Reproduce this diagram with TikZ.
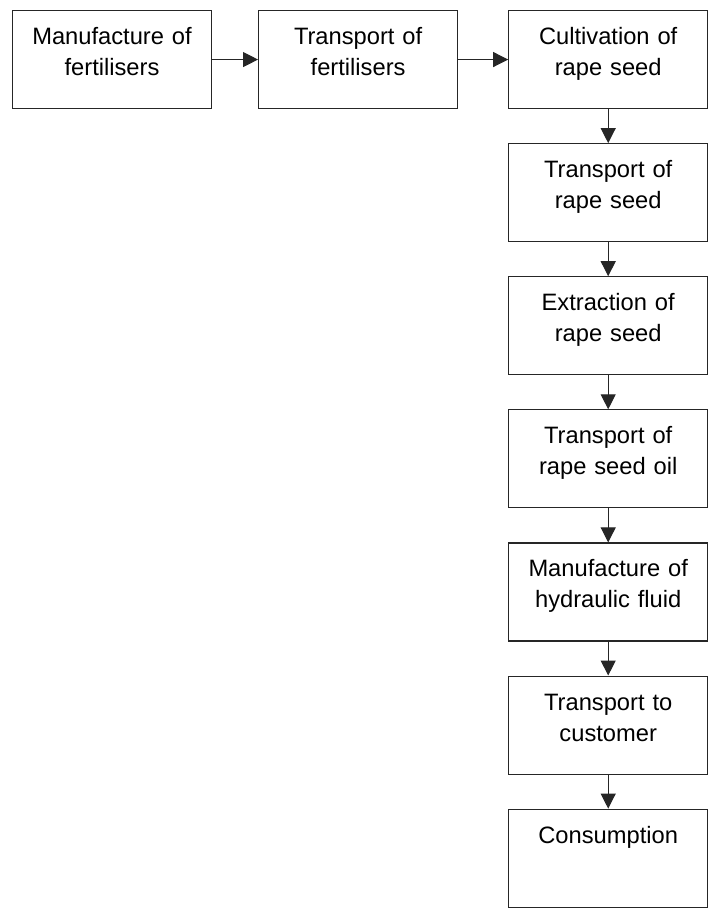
\documentclass[tikz,border=0pt]{standalone}
\usepackage{fontspec}
\setmainfont{Liberation Sans}
\usetikzlibrary{arrows.meta,positioning}

\begin{document}
\begin{tikzpicture}[x=1pt,y=1pt]
\tikzset{stepbox/.style={draw=black!85,line width=1.1pt,text width=199pt,inner xsep=0pt,inner ysep=0pt,align=center,text height=34pt,text depth=64pt,font=\fontsize{23.7}{31}\selectfont}}
\tikzset{flow/.style={draw=black!85,line width=1.1pt,-{Triangle[length=15pt,width=15pt]}}}
\tikzset{node distance=34pt}

\useasboundingbox (0,0) rectangle (709,-911);

\node[stepbox,anchor=north] (mfert) at (112,-10) {Manufacture of\\fertilisers};
\node[stepbox,right=46pt of mfert] (tfert) {Transport of\\fertilisers};
\node[stepbox,right=50pt of tfert] (cult) {Cultivation of\\rape seed};
\node[stepbox,below=of cult] (tseed) {Transport of\\rape seed};
\node[stepbox,below=of tseed] (extr) {Extraction of\\rape seed};
\node[stepbox,below=of extr] (toil) {Transport of\\rape seed oil};
\node[stepbox,below=of toil] (mhyd) {Manufacture of\\hydraulic fluid};
\node[stepbox,below=of mhyd] (tcust) {Transport to\\customer};
\node[stepbox,below=of tcust] (cons) {Consumption};

\draw[flow] (mfert) -- (tfert);
\draw[flow] (tfert) -- (cult);
\draw[flow] (cult) -- (tseed);
\draw[flow] (tseed) -- (extr);
\draw[flow] (extr) -- (toil);
\draw[flow] (toil) -- (mhyd);
\draw[flow] (mhyd) -- (tcust);
\draw[flow] (tcust) -- (cons);

\end{tikzpicture}
\end{document}
